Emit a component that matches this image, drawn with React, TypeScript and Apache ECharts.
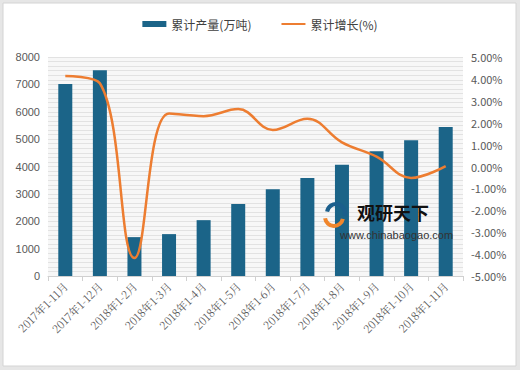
import React, { useEffect, useRef } from "react";
import * as echarts from "echarts";

const categories = [
  "2017年1-11月", "2017年1-12月", "2018年1-2月", "2018年1-3月", "2018年1-4月", "2018年1-5月",
  "2018年1-6月", "2018年1-7月", "2018年1-8月", "2018年1-9月", "2018年1-10月", "2018年1-11月",
];
const production = [7010, 7520, 1420, 1530, 2040, 2630, 3170, 3580, 4060, 4560, 4960, 5440];
const growth = [4.13, 3.8, -4.18, 2.42, 2.3, 2.62, 1.67, 2.18, 1.1, 0.45, -0.52, 0.02];
const seriesNames = ["累计产量(万吨)", "累计增长(%)"];

const FONT = "'Noto Sans CJK SC', 'DejaVu Sans', sans-serif";

export default function App() {
  const ref = useRef<HTMLDivElement>(null);
  useEffect(() => {
    document.body.style.margin = "0";
    const chart = echarts.init(ref.current!, null, { renderer: "svg" });
    chart.setOption({
      animation: false,
      backgroundColor: "#e6e6e6",
      textStyle: { fontFamily: FONT },
      graphic: [
        {
          type: "rect",
          z: -100,
          shape: { x: 3, y: 3, width: 513, height: 363 },
          style: { fill: "#ffffff", stroke: "#d4d4d4", lineWidth: 1 },
        },
        {
          type: "arc",
          z: 10,
          shape: { cx: 336, cy: 213, r: 9, startAngle: 3.3, endAngle: 6.6 },
          style: { fill: "none", stroke: "#1b5f8c", lineWidth: 4 },
        },
        {
          type: "arc",
          z: 11,
          shape: { cx: 334, cy: 217, r: 9, startAngle: 0.2, endAngle: 3.0 },
          style: { fill: "none", stroke: "#f0862c", lineWidth: 4 },
        },
        {
          type: "text",
          z: 10,
          x: 357,
          y: 203,
          style: { text: "观研天下", fill: "#111", font: "bold 18px 'Noto Sans CJK SC'" },
        },
        {
          type: "text",
          z: 10,
          x: 340,
          y: 229,
          style: { text: "www.chinabaogao.com", fill: "#333", font: "11px 'Liberation Sans', Arial" },
        },
      ],
      legend: {
        top: 13,
        left: "center",
        itemGap: 30,
        itemWidth: 24,
        itemHeight: 6,
        textStyle: { fontSize: 12, color: "#404040", fontFamily: FONT },
        data: [
          { name: seriesNames[0], icon: "rect" },
          { name: seriesNames[1], icon: "path://M0,0 L24,0 L24,2 L0,2 Z" },
        ],
      },
      grid: {
        left: 48,
        right: 57,
        top: 57,
        bottom: 94,
        show: true,
        backgroundColor: "#f7f7f7",
        borderWidth: 0,
      },
      xAxis: {
        type: "category",
        data: categories,
        axisLine: { lineStyle: { color: "#d0d0d0" } },
        axisTick: { show: true, lineStyle: { color: "#d0d0d0" } },
        axisLabel: {
          rotate: 45,
          color: "#595959",
          fontSize: 11,
          fontFamily: "'Noto Serif CJK SC', 'Noto Sans CJK SC', serif",
          interval: 0,
          margin: 8,
        },
      },
      yAxis: [
        {
          type: "value",
          min: 0,
          max: 8000,
          interval: 1000,
          axisLine: { show: false },
          axisTick: { show: false },
          axisLabel: {
            color: "#595959",
            fontSize: 11,
            fontFamily: "'Liberation Sans', Arial",
            formatter: (v: number) => String(v),
          },
          splitLine: { lineStyle: { color: "#e2e2e2" } },
          minorTick: { show: false, splitNumber: 6 },
          minorSplitLine: { show: true, lineStyle: { color: "#e2e2e2" } },
        },
        {
          type: "value",
          min: -5,
          max: 5,
          interval: 1,
          axisLine: { show: false },
          axisTick: { show: false },
          splitLine: { show: false },
          axisLabel: {
            color: "#595959",
            fontSize: 11,
            fontFamily: FONT,
            formatter: (v: number) => v.toFixed(2) + "%",
          },
        },
      ],
      series: [
        {
          name: seriesNames[0],
          type: "bar",
          data: production,
          barWidth: 14,
          itemStyle: { color: "#1b6488" },
          z: 2,
        },
        {
          name: seriesNames[1],
          type: "line",
          yAxisIndex: 1,
          data: growth,
          smooth: 0.4,
          symbol: "none",
          lineStyle: { color: "#ed7d31", width: 2.5 },
          itemStyle: { color: "#ed7d31" },
          z: 3,
        },
      ],
    });
    return () => chart.dispose();
  }, []);
  return <div ref={ref} style={{ width: 520, height: 370 }} />;
}
